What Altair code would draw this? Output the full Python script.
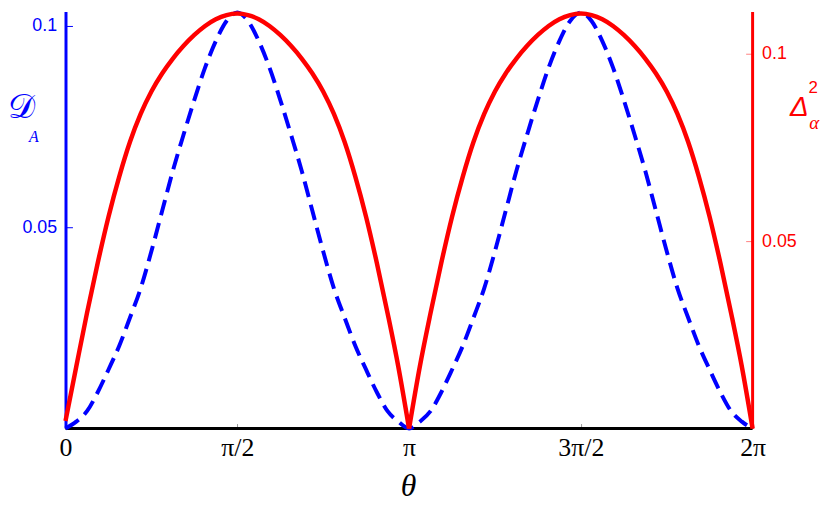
import altair as alt
import pandas as pd

# theta in units of pi
theta_pi = [0, 0.03125, 0.0625, 0.09375, 0.125, 0.15625, 0.1875, 0.21875, 0.25,
            0.28125, 0.3125, 0.34375, 0.375, 0.40625, 0.4375, 0.46875, 0.5,
            0.53125, 0.5625, 0.59375, 0.625, 0.65625, 0.6875, 0.71875, 0.75,
            0.78125, 0.8125, 0.84375, 0.875, 0.90625, 0.9375, 0.96875, 1.0,
            1.03125, 1.0625, 1.09375, 1.125, 1.15625, 1.1875, 1.21875, 1.25,
            1.28125, 1.3125, 1.34375, 1.375, 1.40625, 1.4375, 1.46875, 1.5,
            1.53125, 1.5625, 1.59375, 1.625, 1.65625, 1.6875, 1.71875, 1.75,
            1.78125, 1.8125, 1.84375, 1.875, 1.90625, 1.9375, 1.96875, 2.0]

# D_A (blue dashed, left axis)
d_a = [0, 0.0017, 0.0043, 0.0090, 0.0146, 0.0205, 0.0275, 0.0348, 0.0440,
       0.0540, 0.0640, 0.0730, 0.0816, 0.0896, 0.0962, 0.1012, 0.1033,
       0.1012, 0.0962, 0.0896, 0.0816, 0.0730, 0.0640, 0.0540, 0.0440,
       0.0348, 0.0275, 0.0205, 0.0146, 0.0090, 0.0043, 0.0017, 0,
       0.0017, 0.0043, 0.0090, 0.0146, 0.0205, 0.0275, 0.0348, 0.0440,
       0.0540, 0.0640, 0.0730, 0.0816, 0.0896, 0.0962, 0.1012, 0.1033,
       0.1012, 0.0962, 0.0896, 0.0816, 0.0730, 0.0640, 0.0540, 0.0440,
       0.0348, 0.0275, 0.0205, 0.0146, 0.0090, 0.0043, 0.0017, 0]

# Delta_alpha^2 (red solid, right axis)
delta2 = [0.002, 0.0165, 0.0308, 0.0442, 0.0565, 0.0672, 0.0765, 0.0840, 0.0900,
          0.0948, 0.0988, 0.1022, 0.1051, 0.1075, 0.1093, 0.1104, 0.1108,
          0.1104, 0.1093, 0.1075, 0.1051, 0.1022, 0.0988, 0.0948, 0.0900,
          0.0840, 0.0765, 0.0672, 0.0565, 0.0442, 0.0308, 0.0165, 0,
          0.0165, 0.0308, 0.0442, 0.0565, 0.0672, 0.0765, 0.0840, 0.0900,
          0.0948, 0.0988, 0.1022, 0.1051, 0.1075, 0.1093, 0.1104, 0.1108,
          0.1104, 0.1093, 0.1075, 0.1051, 0.1022, 0.0988, 0.0948, 0.0900,
          0.0840, 0.0765, 0.0672, 0.0565, 0.0442, 0.0308, 0.0165, 0]

x_ticks = [0, 0.5, 1, 1.5, 2]
x_tick_labels = ["0", "π/2", "π", "3π/2", "2π"]
left_ticks = [0.05, 0.1]
left_tick_labels = ["0.05", "0.1"]
right_ticks = [0.05, 0.1]
right_tick_labels = ["0.05", "0.1"]
left_domain = [0, 0.1034]
right_domain = [0, 0.1112]

df_blue = pd.DataFrame({"theta": theta_pi, "D": d_a})

# red curve has a cusp at pi: draw each arch as its own line segment
red_rows = []
for t, v in zip(theta_pi, delta2):
    if t <= 1.0:
        red_rows.append({"theta": t, "R": v, "arch": 1})
    if t >= 1.0:
        red_rows.append({"theta": t, "R": v, "arch": 2})
df_red = pd.DataFrame(red_rows)

W, H = 693, 420
BLUE = "#0000ff"
RED = "#ff0000"


def expr(vals, labels):
    parts = [f"datum.value == {v} ? '{l}'" for v, l in zip(vals, labels)]
    return " : ".join(parts) + " : ''"


x_enc = alt.X(
    "theta:Q",
    scale=alt.Scale(domain=[0, 2], nice=False, zero=False),
    axis=alt.Axis(values=x_ticks, labelExpr=expr(x_ticks, x_tick_labels), title=None,
                  domain=False, grid=False, tickSize=5, tickColor="#999999", tickWidth=1,
                  offset=-5, labelPadding=27, labelBaseline="alphabetic",
                  labelFont="Liberation Serif", labelFontSize=26, labelColor="black",
                  labelFlush=False, labelOverlap=False),
)

blue_line = alt.Chart(df_blue).mark_line(
    color=BLUE, strokeWidth=4, strokeDash=[16, 8], interpolate="monotone"
).encode(
    x=x_enc,
    y=alt.Y("D:Q", scale=alt.Scale(domain=left_domain, nice=False),
            axis=alt.Axis(orient="left", values=left_ticks,
                          labelExpr=expr(left_ticks, left_tick_labels), title=None,
                          domain=False, grid=False, offset=-7, tickSize=7,
                          tickColor=BLUE, tickWidth=1, labelColor=BLUE,
                          labelFont="Liberation Sans", labelFontSize=18, labelPadding=9)),
)

red_line = alt.Chart(df_red).mark_line(
    color=RED, strokeWidth=4.5, interpolate="monotone"
).encode(
    x=x_enc,
    y=alt.Y("R:Q", scale=alt.Scale(domain=right_domain, nice=False),
            axis=alt.Axis(orient="right", values=right_ticks,
                          labelExpr=expr(right_ticks, right_tick_labels), title=None,
                          domain=False, grid=False, offset=-7, tickSize=7,
                          tickColor="#ff8080", tickWidth=1, labelColor=RED,
                          labelFont="Liberation Sans", labelFontSize=18, labelPadding=9)),
    detail="arch:N",
)

one = alt.Data(values=[{}])
left_rule = alt.Chart(one).mark_rule(color=BLUE, strokeWidth=3).encode(
    x=alt.value(0.5), y=alt.value(0), y2=alt.value(H))
right_rule = alt.Chart(one).mark_rule(color=RED, strokeWidth=3).encode(
    x=alt.value(W), y=alt.value(0), y2=alt.value(H))
bottom_rule = alt.Chart(one).mark_rule(color="black", strokeWidth=3).encode(
    x=alt.value(0), x2=alt.value(W), y=alt.value(H))


def txt(s, x, y, size, color, font, style="normal", weight="normal"):
    return alt.Chart(one).mark_text(
        text=s, fontSize=size, color=color, font=font, fontStyle=style,
        fontWeight=weight, align="center", baseline="middle"
    ).encode(x=alt.value(x), y=alt.value(y))


labels = [
    txt("𝒟", -44, 97, 34, BLUE, "DejaVu Serif"),
    txt("A", -32, 126, 16, BLUE, "Liberation Serif", "italic"),
    txt("Δ", 740, 97, 28, RED, "Liberation Sans", "italic"),
    txt("2", 754, 77, 17, RED, "Liberation Sans"),
    txt("α", 755, 112, 19, RED, "Liberation Serif", "italic"),
    txt("θ", 346, 478, 32, "black", "Liberation Serif", "italic"),
]

chart = alt.layer(
    left_rule, right_rule, bottom_rule, blue_line, red_line, *labels
).resolve_scale(y="independent").properties(
    width=W, height=H,
    padding={"left": 58, "top": 2, "right": 71, "bottom": 72},
    autosize=alt.AutoSizeParams(type="none"),
).configure_view(stroke=None)

chart.save("out.html", embed_options={"renderer": "svg", "actions": False})
